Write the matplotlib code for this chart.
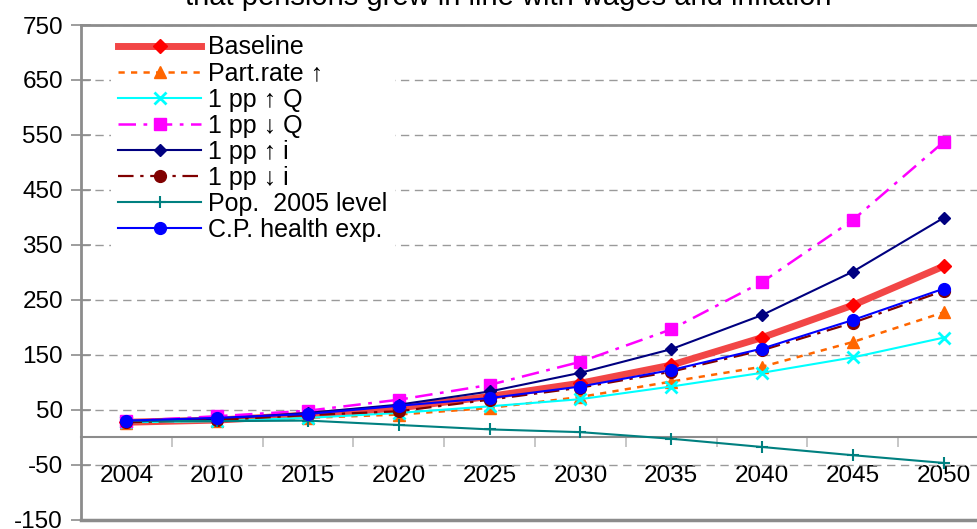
import matplotlib
matplotlib.use("Agg")
import matplotlib.pyplot as plt
from matplotlib.ticker import FixedLocator

plt.rcParams["font.family"] = ["Liberation Sans", "DejaVu Sans"]

# Category axis and index series (2004 = base)
years = ["2004", "2010", "2015", "2020", "2025", "2030", "2035", "2040", "2045", "2050"]
baseline = [27, 31, 40, 53, 74, 98, 131, 181, 240, 311]
part_rate_up = [26, 30, 35, 41, 53, 73, 101, 128, 173, 227]
q_up = [27, 29, 35, 44, 56, 69, 92, 117, 145, 181]
q_down = [29, 38, 48, 68, 95, 137, 196, 282, 395, 537]
i_up = [28, 33, 44, 59, 83, 117, 160, 222, 301, 399]
i_down = [27, 31, 40, 47, 68, 90, 119, 158, 208, 266]
pop_2005 = [30, 29, 30, 22, 14, 9, -3, -18, -33, -47]
health_exp = [30, 35, 42, 57, 71, 92, 122, 161, 213, 270]

y_ticks = list(range(-150, 751, 100))
title = "that pensions grew in line with wages and inflation"

GRAY = "#8c8c8c"

fig = plt.figure(figsize=(9.78, 5.29), dpi=100)
W, H = 978, 529
ax = fig.add_axes([81 / W, (H - 519.5) / H, 908 / W, 494.5 / H])
x = list(range(len(years)))

series = [
    ("Baseline", baseline, dict(color="#F24646", lw=5, ls="-", marker="D", ms=6.8,
                                mfc="#FF0000", mec="#FF0000")),
    ("Part.rate \u2191", part_rate_up, dict(color="#FF6600", lw=1.8, ls=(0, (2.5, 2.5)),
                                             marker="^", ms=9, mfc="#FF6600", mec="#FF6600")),
    ("1 pp \u2191 Q", q_up, dict(color="#00FFFF", lw=1.5, ls="-", marker="x", ms=9,
                                  mew=2, mec="#00FFFF")),
    ("1 pp \u2193 Q", q_down, dict(color="#FF00FF", lw=1.8, ls=(0, (7, 3, 1.5, 3)),
                                    marker="s", ms=9, mfc="#FF00FF", mec="#FF00FF")),
    ("1 pp \u2191 i", i_up, dict(color="#000080", lw=1.5, ls="-", marker="D", ms=6.3,
                                  mfc="#000080", mec="#000080")),
    ("1 pp \u2193 i", i_down, dict(color="#800000", lw=1.6, ls=(0, (7, 3, 1.5, 3)),
                                    marker="o", ms=8.5, mfc="#800000", mec="#800000")),
    ("Pop.  2005 level", pop_2005, dict(color="#008080", lw=1.5, ls="-", marker="+",
                                         ms=9, mew=1.5, mec="#008080")),
    ("C.P. health exp.", health_exp, dict(color="#0000FF", lw=1.5, ls="-", marker="o",
                                          ms=8.5, mfc="#0000FF", mec="#0000FF")),
]

for i, (label, vals, style) in enumerate(series):
    ax.plot(x, vals, label=label, zorder=3 + i * 0.1, clip_on=False, **style)

ax.set_xlim(-0.5, len(years) - 0.5)
ax.set_ylim(-150, 750)

# Value axis
ax.set_yticks(y_ticks)
ax.set_yticklabels([str(v) for v in y_ticks], fontsize=17.5)
ax.tick_params(axis="y", direction="inout", length=14, width=1.2, color=GRAY, pad=6)
ax.yaxis.grid(True, ls=(0, (6, 4)), color="#9a9a9a", lw=1)
ax.set_axisbelow(True)

# Category axis crossing at zero
ax.spines["bottom"].set_position(("data", 0))
ax.spines["bottom"].set_color(GRAY)
ax.spines["bottom"].set_linewidth(1.5)
ax.set_xticks(x)
ax.set_xticklabels(years, fontsize=17.5)
ax.xaxis.set_minor_locator(FixedLocator([k + 0.5 for k in range(len(years) - 1)]))
ax.tick_params(axis="x", which="major", length=0, pad=20)
ax.tick_params(axis="x", which="minor", direction="out", length=7, width=1.2, color="#bdbdbd")

for side in ("left", "top"):
    ax.spines[side].set_color(GRAY)
    ax.spines[side].set_linewidth(2)
ax.spines["right"].set_visible(False)
ax.axhline(-150, color=GRAY, lw=2.5, clip_on=False, zorder=2.5)

leg = ax.legend(loc="upper left", bbox_to_anchor=(30 / 908, 1 - 3 / 494.5),
                fontsize=18, frameon=True, fancybox=False, framealpha=1,
                facecolor="white", edgecolor="none", handlelength=3.3,
                handletextpad=0.3, labelspacing=0.08, borderpad=0.3, borderaxespad=0)
leg.set_zorder(5)

fig.text(508 / W, 1 - 5 / H, title, ha="center", va="baseline", fontsize=21)

fig.savefig("out.png", dpi=100)
